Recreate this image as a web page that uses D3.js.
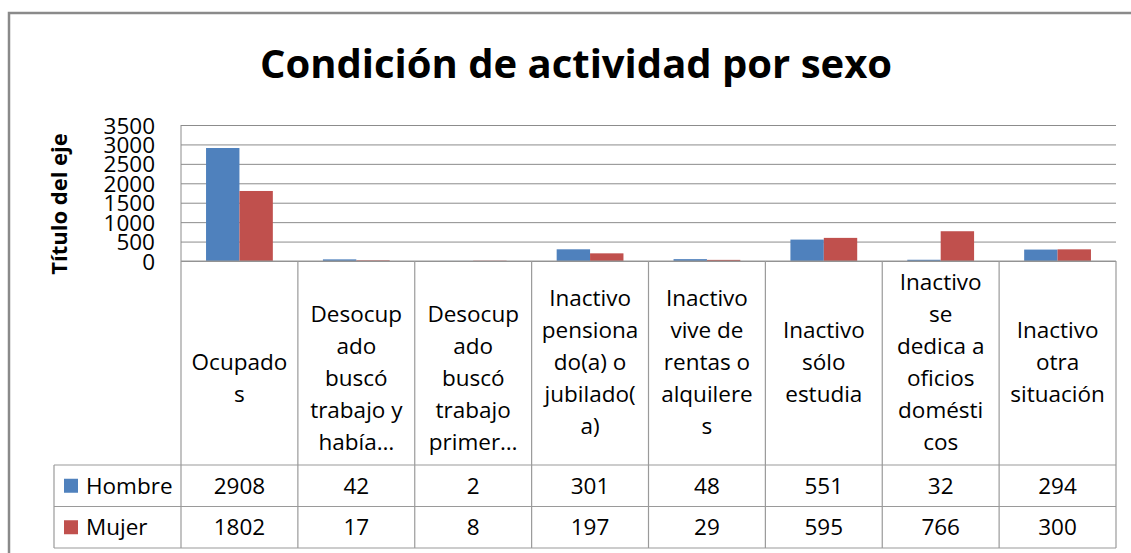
<!DOCTYPE html>
<meta charset="utf-8">
<style>
    body { margin: 0; background: #fff; }
    text { font-family: "Open Sans", sans-serif; fill: #000; }
    .grid line { stroke: #8c8c8c; stroke-width: 1px; }
    .grid .domain { display: none; }
    .grid text { font-size: 22.5px; }
    .tbl { stroke: #9a9a9a; stroke-width: 1.2px; fill: none; }
</style>
<svg width="1131" height="553"></svg>
<script src="https://cdnjs.cloudflare.com/ajax/libs/d3/7.8.5/d3.min.js"></script>
<script>

    // data
    var categories = ["Ocupados", "Desocupado buscó trabajo y había…", "Desocupado buscó trabajo primer…",
        "Inactivo pensionado(a) o jubilado(a)", "Inactivo vive de rentas o alquileres",
        "Inactivo sólo estudia", "Inactivo se dedica a oficios domésticos", "Inactivo otra situación"];
    // how Excel wrapped each label in its cell
    var labelLines = [
        ["Ocupado", "s"],
        ["Desocup", "ado", "buscó", "trabajo y", "había…"],
        ["Desocup", "ado", "buscó", "trabajo", "primer…"],
        ["Inactivo", "pensiona", "do(a) o", "jubilado(", "a)"],
        ["Inactivo", "vive de", "rentas o", "alquilere", "s"],
        ["Inactivo", "sólo", "estudia"],
        ["Inactivo", "se", "dedica a", "oficios", "domésti", "cos"],
        ["Inactivo", "otra", "situación"]
    ];
    var series = ["Hombre", "Mujer"];
    var hombre = [2908, 42, 2, 301, 48, 551, 32, 294];
    var mujer = [1802, 17, 8, 197, 29, 595, 766, 300];
    var yTicks = [0, 500, 1000, 1500, 2000, 2500, 3000, 3500];
    var colors = ["#4f81bd", "#c0504d"];

    var values = [hombre, mujer];

    var svg = d3.select("svg"),
        plotLeft = 181, plotRight = 1116, plotTop = 125, axisY = 261,
        labelBottom = 465, rowH = 41.5, legendLeft = 54,
        lineH = 32, fs = "22.5px";

    // outer chart frame (only top and left edges are in view)
    svg.append("path")
        .attr("d", "M9,553V13H1131")
        .attr("fill", "none")
        .attr("stroke", "#8a8a8a")
        .attr("stroke-width", 2.5);

    svg.append("text")
        .attr("x", 576)
        .attr("y", 78)
        .attr("text-anchor", "middle")
        .style("font-size", "40px")
        .style("font-weight", "bold")
        .text("Condición de actividad por sexo");

    var x0 = d3.scaleBand().domain(categories).range([plotLeft, plotRight]).paddingInner(0).paddingOuter(0);
    var x1 = d3.scaleBand().domain(series).range([0, x0.bandwidth()]).paddingInner(0).paddingOuter(0.75);
    var y = d3.scaleLinear().domain([0, 3500]).range([axisY, plotTop]);

    // gridlines + tick labels
    svg.append("g")
        .attr("class", "grid")
        .attr("transform", "translate(" + plotLeft + ",0)")
        .call(d3.axisLeft(y).tickValues(yTicks).tickSize(-(plotRight - plotLeft)).tickPadding(26).tickFormat(d3.format("d")))
        .selectAll("text").attr("dy", "0.36em");

    svg.append("line")
        .attr("x1", plotLeft).attr("x2", plotLeft).attr("y1", plotTop).attr("y2", axisY)
        .attr("stroke", "#8c8c8c");

    // bars
    var groups = svg.append("g").selectAll("g")
        .data(series)
        .enter().append("g")
        .attr("fill", function (d, i) { return colors[i]; });

    groups.selectAll("rect")
        .data(function (s, i) {
            return categories.map(function (c, j) { return {cat: c, s: s, v: values[i][j]}; });
        })
        .enter().append("rect")
        .attr("x", function (d) { return x0(d.cat) + x1(d.s); })
        .attr("width", x1.bandwidth())
        .attr("y", function (d) { return y(d.v); })
        .attr("height", function (d) { return axisY - y(d.v); });

    // data table under the axis
    var tableBottom = labelBottom + 2 * rowH;
    var tbl = svg.append("g");
    tbl.append("line").attr("class", "tbl")
        .attr("x1", plotLeft).attr("x2", plotRight).attr("y1", axisY).attr("y2", axisY);
    [labelBottom, labelBottom + rowH, tableBottom].forEach(function (yy) {
        tbl.append("line").attr("class", "tbl")
            .attr("x1", legendLeft).attr("x2", plotRight).attr("y1", yy).attr("y2", yy);
    });
    tbl.append("line").attr("class", "tbl")
        .attr("x1", legendLeft).attr("x2", legendLeft).attr("y1", labelBottom).attr("y2", tableBottom);
    categories.concat([null]).forEach(function (c) {
        var xx = c === null ? plotRight : x0(c);
        tbl.append("line").attr("class", "tbl")
            .attr("x1", xx).attr("x2", xx).attr("y1", axisY).attr("y2", tableBottom);
    });

    // category labels, centred in their cells
    var labelShift = [0.5, 0.5, 0.5, 0, 0, 0, 0, 0];
    categories.forEach(function (c, j) {
        var lines = labelLines[j];
        var mid = 370 + labelShift[j] * lineH;
        var t = svg.append("text")
            .attr("text-anchor", "middle")
            .style("font-size", fs);
        lines.forEach(function (ln, k) {
            t.append("tspan")
                .attr("x", x0(c) + x0.bandwidth() / 2)
                .attr("y", mid + (k - (lines.length - 1) / 2) * lineH)
                .text(ln);
        });
    });

    // legend keys and values
    series.forEach(function (s, i) {
        var cy = labelBottom + rowH * i + rowH / 2;
        svg.append("rect")
            .attr("x", 64).attr("y", cy - 7)
            .attr("width", 14).attr("height", 14)
            .attr("fill", colors[i]);
        svg.append("text")
            .attr("x", 86).attr("y", cy).attr("dy", "0.36em")
            .style("font-size", fs)
            .text(s);
        categories.forEach(function (c, j) {
            svg.append("text")
                .attr("x", x0(c) + x0.bandwidth() / 2)
                .attr("y", cy).attr("dy", "0.36em")
                .attr("text-anchor", "middle")
                .style("font-size", fs)
                .text(values[i][j]);
        });
    });

    // axis title
    svg.append("text")
        .attr("transform", "translate(67,204) rotate(-90)")
        .attr("text-anchor", "middle")
        .style("font-size", "22px")
        .style("font-weight", "bold")
        .text("Título del eje");
</script>
